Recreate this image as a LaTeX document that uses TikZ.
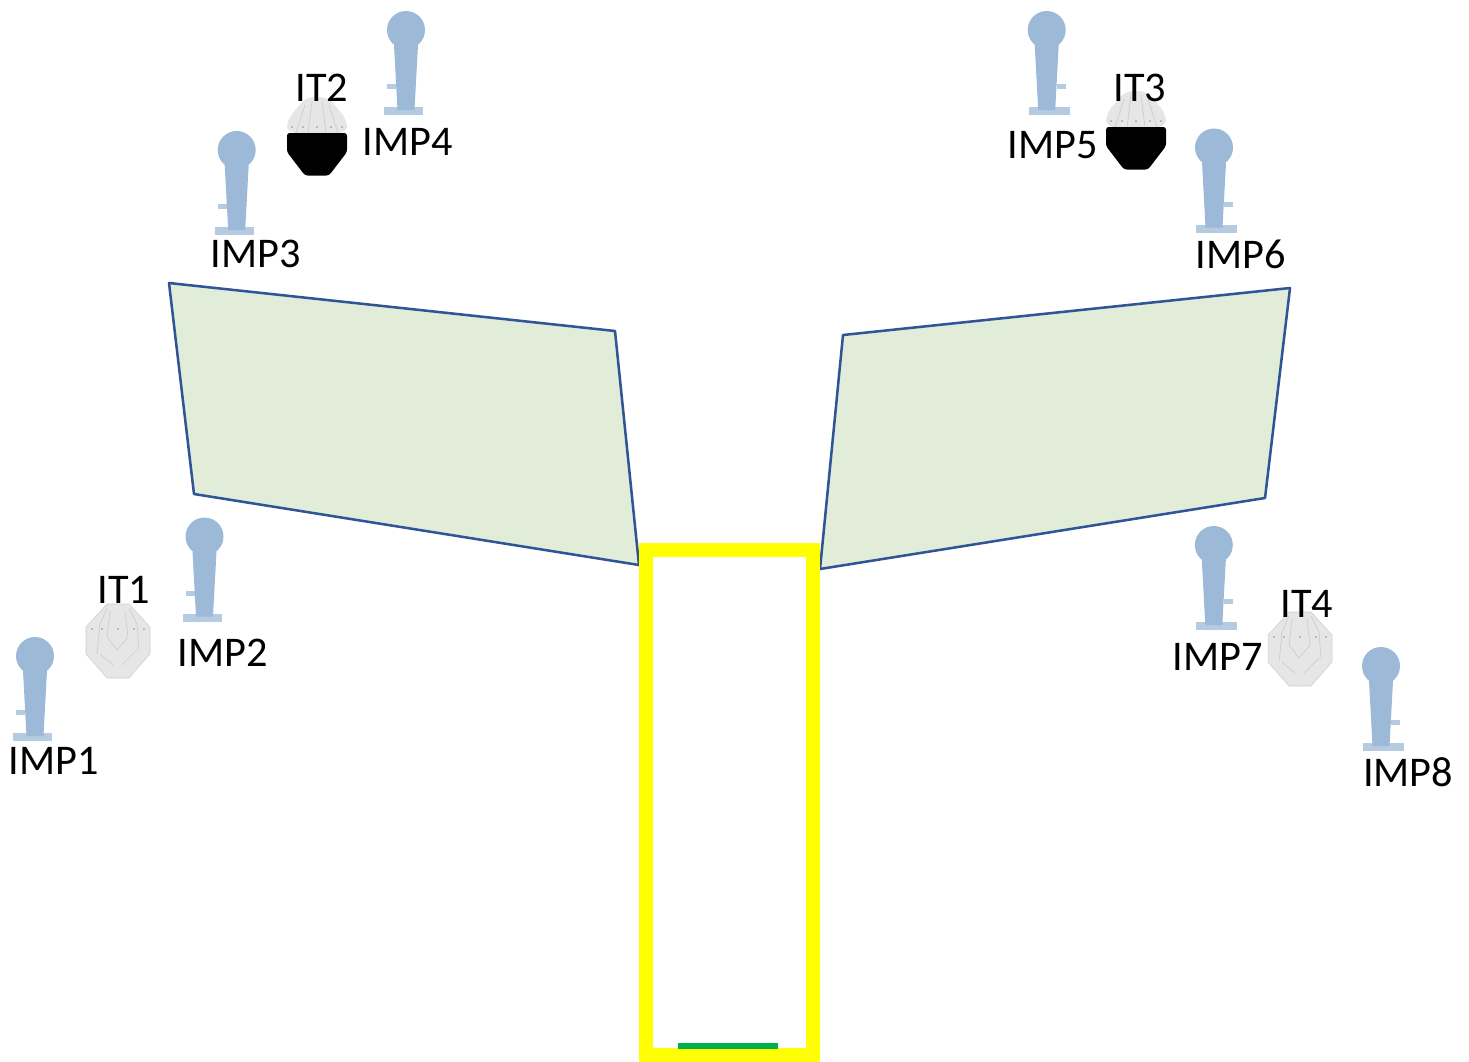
\documentclass[tikz,border=0pt]{standalone}
\usepackage{fontspec}
\setmainfont{Carlito}
\definecolor{pinblue}{HTML}{9CBAD7}
\definecolor{pinfoot}{HTML}{B4CBE2}
\definecolor{platefill}{HTML}{E6E6E6}
\definecolor{plateline}{HTML}{CDCDCD}
\definecolor{panelfill}{HTML}{E1EDD9}
\definecolor{panelline}{HTML}{2F5597}
\definecolor{barcol}{HTML}{00B050}
\definecolor{pitcol}{RGB}{255,255,0}
\tikzset{
  x=0.75pt,y=-0.75pt,
  lab/.style={inner sep=0pt,font=\fontsize{31.7}{32}\selectfont,text=black},
  panel/.style={fill=panelfill,draw=panelline,line width=1.9pt,line join=round},
  impactL/.pic={
    \fill[pinfoot] (-22,77) rectangle (17,85);
    \fill[pinfoot] (-19,54) rectangle (-10,59);
    \fill[pinblue] (-12,15) -- (12,15) -- (8.5,80) -- (-8.5,80) -- cycle;
    \fill[pinblue] (0,0) circle (19);
  },
  impactR/.pic={
    \fill[pinfoot] (-18,77) rectangle (23,85);
    \fill[pinfoot] (10,54) rectangle (19,59);
    \fill[pinblue] (-12,15) -- (12,15) -- (8.5,80) -- (-8.5,80) -- cycle;
    \fill[pinblue] (0,0) circle (19);
  },
  plate/.pic={
    \fill[platefill,draw=plateline,line width=0.4pt]
      (-11,-37) -- (11,-37) -- (32,-14) -- (32,13) -- (11,37) -- (-11,37) -- (-32,13) -- (-32,-14) -- cycle;
    \draw[plateline,line width=0.5pt]
      (-8,-30) -- (-11,-4) -- (-1,9) -- (10,-4) -- (7,-30)
      (-11,-33) -- (-18,-17) -- (-21,13)
      (11,-33) -- (19,-17) -- (21,9)
      (-18,13) -- (-5,24) (19,9) -- (4,24);
    \foreach \dx in {-26,-16,0,16,26} \fill[plateline!70!black] (\dx,-12) circle (0.8);
  },
  halfplate/.pic={
    \fill[platefill,rounded corners=6pt]
      (-11,-42) -- (11,-42) -- (30,-19) -- (30,-6) -- (-30,-6) -- (-30,-19) -- cycle;
    \draw[plateline,line width=0.5pt]
      (-5,-38) -- (-9,-6) (5,-38) -- (9,-6) (-12,-34) -- (-21,-6) (12,-34) -- (21,-6);
    \foreach \dx in {-25,-14,0,14,25} \fill[plateline!70!black] (\dx,-12) circle (0.8);
    \fill[black,rounded corners=2pt]
      (-30,-6) -- (30,-6) -- (30,13) -- (12,36.5) -- (-12,36.5) -- (-30,13) -- cycle;
  }
}
\begin{document}
\begin{tikzpicture}
\useasboundingbox (0,0) rectangle (1469,1061);
% panels
\draw[panel] (169,283) -- (615,331) -- (639,565) -- (194,494) -- cycle;
\draw[panel] (843,335) -- (1290,288) -- (1265,498) -- (820,569) -- cycle;
% pit
\draw[pitcol,line width=10.9pt,line join=miter] (646,550) rectangle (813,1055.5);
\fill[barcol] (678,1042.5) rectangle (778,1049);
% impact targets
\pic at (35,656) {impactL};
\pic at (204.5,536.5) {impactL};
\pic at (236.7,150) {impactL};
\pic at (406,30) {impactL};
\pic at (1046.7,30) {impactR};
\pic at (1214,147.5) {impactR};
\pic at (1213.8,545) {impactR};
\pic at (1381,666) {impactR};
% plates
\pic at (118,641) {plate};
\pic at (1300,649) {plate};
\pic at (317,139) {halfplate};
\pic at (1136,133) {halfplate};
% labels
\node[lab] (imp1) at (54,761) {IMP1};
\node[lab] (imp2) at (223,653) {IMP2};
\node[lab] (imp3) at (256,254) {IMP3};
\node[lab] (imp4) at (408,142) {IMP4};
\node[lab] (imp5) at (1053,145) {IMP5};
\node[lab] (imp6) at (1241,254) {IMP6};
\node[lab] (imp7) at (1218,657) {IMP7};
\node[lab] (imp8) at (1408,772) {IMP8};
\node[lab] (it1) at (124,590) {IT1};
\node[lab] (it2) at (322,88) {IT2};
\node[lab] (it3) at (1140,88) {IT3};
\node[lab] (it4) at (1307,604) {IT4};
\end{tikzpicture}
\end{document}
